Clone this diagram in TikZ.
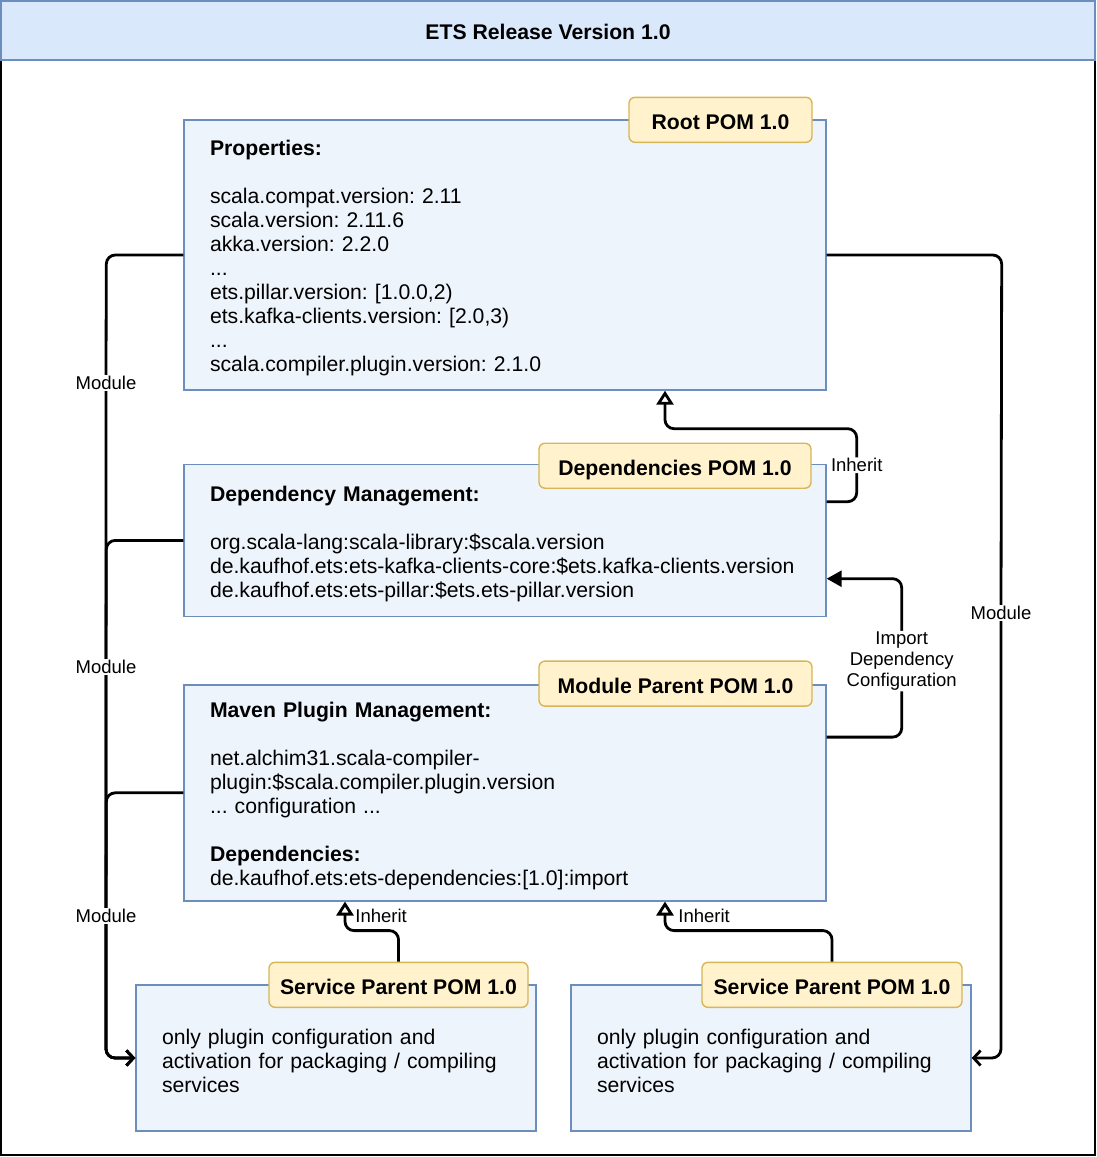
\documentclass[tikz,border=0pt]{standalone}
\usepackage{fontspec}
\setmainfont{Liberation Sans}
\usepackage{tikz}
\usetikzlibrary{arrows.meta}
\usetikzlibrary{positioning}

\definecolor{boxfill}{HTML}{EEF4FC}
\definecolor{boxline}{HTML}{6C8EBF}
\definecolor{tagfill}{HTML}{FFF2CC}
\definecolor{tagline}{HTML}{D6B656}
\definecolor{barfill}{HTML}{DAE8FC}

\newcommand{\pomfont}{\fontsize{21.2}{24}\selectfont\frenchspacing}
\newcommand{\edgefont}{\fontsize{18.5}{21}\selectfont}

\begin{document}
\begin{tikzpicture}[
x                 = 1pt,
y                 = -1pt,
every node/.style = {font=\pomfont},
titlebar/.style   = {draw=boxline, fill=barfill, line width=1.4pt, minimum width=1094pt, minimum height=59pt, text height=17.2pt, text depth=0pt, font=\pomfont\bfseries},
pombox/.style     = {draw=boxline, fill=boxfill, line width=1.4pt, text width=590pt, inner xsep=26pt, inner ysep=0pt, align=left, execute at begin node={\rule{0pt}{22pt}}},
svcbox/.style     = {pombox, text width=348pt, minimum height=146pt},
pomtag/.style     = {draw=tagline, fill=tagfill, line width=1.4pt, rounded corners=6pt, minimum height=45pt, inner sep=0pt, text height=19.7pt, text depth=0pt, font=\pomfont\bfseries},
edgelbl/.style    = {font=\edgefont, fill=white, inner sep=1pt, align=center},
modline/.style    = {draw, line width=2.8pt, rounded corners=9pt, -{Straight Barb[length=7pt,width=15pt]}},
inhline/.style    = {draw, line width=2.8pt, rounded corners=9pt, -{Triangle[open,length=14pt,width=17pt]}},
impline/.style    = {draw, line width=2.8pt, rounded corners=9pt, -{Triangle[length=15pt,width=16pt]}}
]
\useasboundingbox (0,0) rectangle (1097,1157);

% release frame
\draw[line width=1.4pt] (1,60) rectangle (1095,1155);
\node[titlebar] (title) at (548,30.5) {ETS Release Version 1.0};

\node[pombox, minimum height=270pt] (root) at (505,255) {\textbf{Properties:}\\[24pt]
scala.compat.version: 2.11\\
scala.version: 2.11.6\\
akka.version: 2.2.0\\
...\\
ets.pillar.version: [1.0.0,2)\\
ets.kafka-clients.version: [2.0,3)\\
...\\
scala.compiler.plugin.version: 2.1.0};
\node[pombox, minimum height=152pt, below=73pt of root] (deps) {\textbf{Dependency Management:}\\[24pt]
org.scala-lang:scala-library:\$scala.version\\
\mbox{de.kaufhof.ets:ets-kafka-clients-core:\$ets.kafka-clients.version}\\
de.kaufhof.ets:ets-pillar:\$ets.ets-pillar.version};
\node[pombox, minimum height=216pt, below=67pt of deps] (modpar) {\textbf{Maven Plugin Management:}\\[24pt]
net.alchim31.scala-compiler-\\
plugin:\$scala.compiler.plugin.version\\
... configuration ...\\[24pt]
\textbf{Dependencies:}\\
de.kaufhof.ets:ets-dependencies:[1.0]:import};
\node[svcbox] (svc1) at (336,1058) {only plugin configuration and\\
activation for packaging / compiling\\
services};
\node[svcbox] (svc2) at (771,1058) {only plugin configuration and\\
activation for packaging / compiling\\
services};

\node[pomtag, minimum width=183pt, anchor=east] (roottag) at ([xshift=-14pt,yshift=-0.5pt]root.north east) {Root POM 1.0};
\node[pomtag, minimum width=272pt, anchor=east] (depstag) at ([xshift=-15pt,yshift=-2pt]deps.north east) {Dependencies POM 1.0};
\node[pomtag, minimum width=273pt, anchor=east] (modpartag) at ([xshift=-14pt,yshift=0.5pt]modpar.north east) {Module Parent POM 1.0};
\node[pomtag, minimum width=259pt, anchor=east] (svc1tag) at ([xshift=-8pt,yshift=-0.5pt]svc1.north east) {Service Parent POM 1.0};
\node[pomtag, minimum width=260pt, anchor=east] (svc2tag) at ([xshift=-9pt,yshift=-0.5pt]svc2.north east) {Service Parent POM 1.0};

\draw[modline] (root.west) -- ++(-77,0) -- (106,383) node[edgelbl] {Module} |- (svc1.west);
\draw[modline] (deps.west) -- ++(-77,0) -- (106,667) node[edgelbl] {Module} |- (svc1.west);
\draw[modline] (modpar.west) -- ++(-77,0) -- (106,916) node[edgelbl] {Module} |- (svc1.west);
\draw[modline] (root.east) -- ++(175,0) -- (1001,613) node[edgelbl] {Module} |- (svc2.east);

\draw[inhline] ([yshift=-38pt]deps.north east) -- ++(30,0) -- ++(0,-73) node[edgelbl, midway] {Inherit} -| ([xshift=160pt]root.south);
\draw[impline] ([yshift=-53pt]modpar.north east) -- ++(75,0) |- node[edgelbl, pos=0.24] {Import\\Dependency\\Configuration} ([yshift=-115pt]deps.north east);
\draw[inhline] (svc1tag.north) -- ++(0,-31) -| node[edgelbl, pos=0.75, anchor=west, fill=none, xshift=8pt] {Inherit} ([xshift=-160pt]modpar.south);
\draw[inhline] (svc2tag.north) -- ++(0,-31) -| node[edgelbl, pos=0.75, anchor=west, fill=none, xshift=11pt] {Inherit} ([xshift=160pt]modpar.south);
\end{tikzpicture}
\end{document}
